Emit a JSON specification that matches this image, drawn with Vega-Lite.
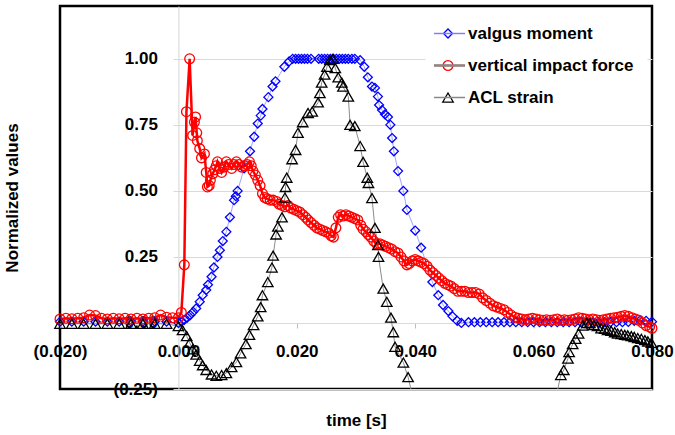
{
  "$schema": "https://vega.github.io/schema/vega-lite/v6.json",
  "width": 592,
  "height": 383,
  "autosize": {"type": "none"},
  "padding": {"left": 60, "top": 6, "right": 23, "bottom": 46},
  "background": "white",
  "config": {
    "font": "Liberation Sans",
    "view": {"stroke": "#000000", "strokeWidth": 2.5},
    "axis": {"labelFont": "Liberation Sans", "labelFontWeight": "bold", "labelFontSize": 17, "labelColor": "#000000", "titleFont": "Liberation Sans", "titleFontWeight": "bold", "titleFontSize": 17, "titleColor": "#000000", "grid": false},
    "legend": {"labelFont": "Liberation Sans", "labelFontWeight": "bold", "labelFontSize": 17, "labelColor": "#000000", "labelLimit": 300}
  },
  "data": {"values": [
    {"series": "valgus moment", "t": -0.020, "v": 0.005},
    {"series": "valgus moment", "t": -0.018, "v": 0.005},
    {"series": "valgus moment", "t": -0.016, "v": 0.005},
    {"series": "valgus moment", "t": -0.014, "v": 0.005},
    {"series": "valgus moment", "t": -0.012, "v": 0.005},
    {"series": "valgus moment", "t": -0.010, "v": 0.005},
    {"series": "valgus moment", "t": -0.008, "v": 0.005},
    {"series": "valgus moment", "t": -0.006, "v": 0.005},
    {"series": "valgus moment", "t": -0.004, "v": 0.005},
    {"series": "valgus moment", "t": -0.002, "v": 0.005},
    {"series": "valgus moment", "t": 0.0, "v": 0.0},
    {"series": "valgus moment", "t": 0.0005, "v": 0.005},
    {"series": "valgus moment", "t": 0.001, "v": 0.012},
    {"series": "valgus moment", "t": 0.0015, "v": 0.02},
    {"series": "valgus moment", "t": 0.002, "v": 0.03},
    {"series": "valgus moment", "t": 0.0025, "v": 0.042},
    {"series": "valgus moment", "t": 0.003, "v": 0.055},
    {"series": "valgus moment", "t": 0.0036, "v": 0.08},
    {"series": "valgus moment", "t": 0.0041, "v": 0.105},
    {"series": "valgus moment", "t": 0.0047, "v": 0.125},
    {"series": "valgus moment", "t": 0.005, "v": 0.145},
    {"series": "valgus moment", "t": 0.0056, "v": 0.175},
    {"series": "valgus moment", "t": 0.006, "v": 0.21},
    {"series": "valgus moment", "t": 0.0066, "v": 0.25},
    {"series": "valgus moment", "t": 0.007, "v": 0.275},
    {"series": "valgus moment", "t": 0.0075, "v": 0.31},
    {"series": "valgus moment", "t": 0.0081, "v": 0.345},
    {"series": "valgus moment", "t": 0.0087, "v": 0.4},
    {"series": "valgus moment", "t": 0.0094, "v": 0.465},
    {"series": "valgus moment", "t": 0.0097, "v": 0.48},
    {"series": "valgus moment", "t": 0.01, "v": 0.5},
    {"series": "valgus moment", "t": 0.0111, "v": 0.585},
    {"series": "valgus moment", "t": 0.0121, "v": 0.65},
    {"series": "valgus moment", "t": 0.0128, "v": 0.705},
    {"series": "valgus moment", "t": 0.0134, "v": 0.755},
    {"series": "valgus moment", "t": 0.0139, "v": 0.785},
    {"series": "valgus moment", "t": 0.0142, "v": 0.81},
    {"series": "valgus moment", "t": 0.0152, "v": 0.855},
    {"series": "valgus moment", "t": 0.0159, "v": 0.895},
    {"series": "valgus moment", "t": 0.0164, "v": 0.915},
    {"series": "valgus moment", "t": 0.0179, "v": 0.97},
    {"series": "valgus moment", "t": 0.0187, "v": 0.99},
    {"series": "valgus moment", "t": 0.0193, "v": 1.0},
    {"series": "valgus moment", "t": 0.0198, "v": 1.0},
    {"series": "valgus moment", "t": 0.0203, "v": 1.0},
    {"series": "valgus moment", "t": 0.0208, "v": 1.0},
    {"series": "valgus moment", "t": 0.0213, "v": 1.0},
    {"series": "valgus moment", "t": 0.0218, "v": 1.0},
    {"series": "valgus moment", "t": 0.0224, "v": 1.0},
    {"series": "valgus moment", "t": 0.0237, "v": 1.0},
    {"series": "valgus moment", "t": 0.0242, "v": 1.0},
    {"series": "valgus moment", "t": 0.0247, "v": 1.0},
    {"series": "valgus moment", "t": 0.0252, "v": 1.0},
    {"series": "valgus moment", "t": 0.0257, "v": 1.0},
    {"series": "valgus moment", "t": 0.0262, "v": 1.0},
    {"series": "valgus moment", "t": 0.0267, "v": 1.0},
    {"series": "valgus moment", "t": 0.0272, "v": 1.0},
    {"series": "valgus moment", "t": 0.0277, "v": 1.0},
    {"series": "valgus moment", "t": 0.0282, "v": 1.0},
    {"series": "valgus moment", "t": 0.0287, "v": 1.0},
    {"series": "valgus moment", "t": 0.0293, "v": 1.0},
    {"series": "valgus moment", "t": 0.0298, "v": 1.0},
    {"series": "valgus moment", "t": 0.0307, "v": 0.995},
    {"series": "valgus moment", "t": 0.0314, "v": 0.97},
    {"series": "valgus moment", "t": 0.032, "v": 0.93},
    {"series": "valgus moment", "t": 0.0327, "v": 0.895},
    {"series": "valgus moment", "t": 0.0332, "v": 0.89},
    {"series": "valgus moment", "t": 0.0337, "v": 0.857},
    {"series": "valgus moment", "t": 0.0339, "v": 0.825},
    {"series": "valgus moment", "t": 0.0344, "v": 0.806},
    {"series": "valgus moment", "t": 0.0349, "v": 0.79},
    {"series": "valgus moment", "t": 0.0354, "v": 0.78},
    {"series": "valgus moment", "t": 0.0358, "v": 0.75},
    {"series": "valgus moment", "t": 0.0361, "v": 0.7},
    {"series": "valgus moment", "t": 0.0364, "v": 0.65},
    {"series": "valgus moment", "t": 0.0371, "v": 0.575},
    {"series": "valgus moment", "t": 0.038, "v": 0.5},
    {"series": "valgus moment", "t": 0.0386, "v": 0.428},
    {"series": "valgus moment", "t": 0.04, "v": 0.35},
    {"series": "valgus moment", "t": 0.041, "v": 0.285},
    {"series": "valgus moment", "t": 0.0429, "v": 0.155},
    {"series": "valgus moment", "t": 0.0439, "v": 0.105},
    {"series": "valgus moment", "t": 0.0447, "v": 0.068},
    {"series": "valgus moment", "t": 0.0456, "v": 0.045},
    {"series": "valgus moment", "t": 0.0463, "v": 0.025},
    {"series": "valgus moment", "t": 0.0471, "v": 0.008},
    {"series": "valgus moment", "t": 0.0478, "v": 0.0},
    {"series": "valgus moment", "t": 0.049, "v": 0.003},
    {"series": "valgus moment", "t": 0.050, "v": 0.003},
    {"series": "valgus moment", "t": 0.051, "v": 0.003},
    {"series": "valgus moment", "t": 0.052, "v": 0.003},
    {"series": "valgus moment", "t": 0.053, "v": 0.003},
    {"series": "valgus moment", "t": 0.054, "v": 0.003},
    {"series": "valgus moment", "t": 0.055, "v": 0.003},
    {"series": "valgus moment", "t": 0.056, "v": 0.003},
    {"series": "valgus moment", "t": 0.057, "v": 0.003},
    {"series": "valgus moment", "t": 0.058, "v": 0.003},
    {"series": "valgus moment", "t": 0.059, "v": 0.003},
    {"series": "valgus moment", "t": 0.060, "v": 0.003},
    {"series": "valgus moment", "t": 0.061, "v": 0.003},
    {"series": "valgus moment", "t": 0.062, "v": 0.003},
    {"series": "valgus moment", "t": 0.063, "v": 0.003},
    {"series": "valgus moment", "t": 0.064, "v": 0.003},
    {"series": "valgus moment", "t": 0.065, "v": 0.003},
    {"series": "valgus moment", "t": 0.066, "v": 0.003},
    {"series": "valgus moment", "t": 0.067, "v": 0.003},
    {"series": "valgus moment", "t": 0.068, "v": 0.003},
    {"series": "valgus moment", "t": 0.069, "v": 0.003},
    {"series": "valgus moment", "t": 0.070, "v": 0.003},
    {"series": "valgus moment", "t": 0.071, "v": 0.003},
    {"series": "valgus moment", "t": 0.072, "v": 0.003},
    {"series": "valgus moment", "t": 0.073, "v": 0.003},
    {"series": "valgus moment", "t": 0.074, "v": 0.003},
    {"series": "valgus moment", "t": 0.075, "v": 0.003},
    {"series": "valgus moment", "t": 0.076, "v": 0.004},
    {"series": "valgus moment", "t": 0.077, "v": 0.008},
    {"series": "valgus moment", "t": 0.078, "v": 0.01},
    {"series": "valgus moment", "t": 0.079, "v": 0.008},
    {"series": "valgus moment", "t": 0.080, "v": 0.005},

    {"series": "vertical impact force", "t": -0.020, "v": 0.015},
    {"series": "vertical impact force", "t": -0.019, "v": 0.018},
    {"series": "vertical impact force", "t": -0.018, "v": 0.016},
    {"series": "vertical impact force", "t": -0.017, "v": 0.018},
    {"series": "vertical impact force", "t": -0.016, "v": 0.02},
    {"series": "vertical impact force", "t": -0.015, "v": 0.03},
    {"series": "vertical impact force", "t": -0.014, "v": 0.028},
    {"series": "vertical impact force", "t": -0.013, "v": 0.018},
    {"series": "vertical impact force", "t": -0.012, "v": 0.015},
    {"series": "vertical impact force", "t": -0.011, "v": 0.018},
    {"series": "vertical impact force", "t": -0.010, "v": 0.016},
    {"series": "vertical impact force", "t": -0.009, "v": 0.018},
    {"series": "vertical impact force", "t": -0.008, "v": 0.015},
    {"series": "vertical impact force", "t": -0.007, "v": 0.018},
    {"series": "vertical impact force", "t": -0.006, "v": 0.015},
    {"series": "vertical impact force", "t": -0.005, "v": 0.018},
    {"series": "vertical impact force", "t": -0.004, "v": 0.02},
    {"series": "vertical impact force", "t": -0.003, "v": 0.03},
    {"series": "vertical impact force", "t": -0.002, "v": 0.022},
    {"series": "vertical impact force", "t": -0.001, "v": 0.02},
    {"series": "vertical impact force", "t": 0.0, "v": 0.02},
    {"series": "vertical impact force", "t": 0.0005, "v": 0.04},
    {"series": "vertical impact force", "t": 0.001, "v": 0.22},
    {"series": "vertical impact force", "t": 0.00136, "v": 0.8},
    {"series": "vertical impact force", "t": 0.0019, "v": 1.0},
    {"series": "vertical impact force", "t": 0.0024, "v": 0.71},
    {"series": "vertical impact force", "t": 0.0027, "v": 0.76},
    {"series": "vertical impact force", "t": 0.0029, "v": 0.78},
    {"series": "vertical impact force", "t": 0.0031, "v": 0.72},
    {"series": "vertical impact force", "t": 0.0032, "v": 0.69},
    {"series": "vertical impact force", "t": 0.0036, "v": 0.66},
    {"series": "vertical impact force", "t": 0.0039, "v": 0.625},
    {"series": "vertical impact force", "t": 0.0044, "v": 0.64},
    {"series": "vertical impact force", "t": 0.0047, "v": 0.57},
    {"series": "vertical impact force", "t": 0.0049, "v": 0.515},
    {"series": "vertical impact force", "t": 0.0052, "v": 0.52},
    {"series": "vertical impact force", "t": 0.0054, "v": 0.54},
    {"series": "vertical impact force", "t": 0.0058, "v": 0.565},
    {"series": "vertical impact force", "t": 0.0061, "v": 0.58},
    {"series": "vertical impact force", "t": 0.0064, "v": 0.595},
    {"series": "vertical impact force", "t": 0.0066, "v": 0.61},
    {"series": "vertical impact force", "t": 0.007, "v": 0.585},
    {"series": "vertical impact force", "t": 0.0073, "v": 0.57},
    {"series": "vertical impact force", "t": 0.0077, "v": 0.59},
    {"series": "vertical impact force", "t": 0.0081, "v": 0.61},
    {"series": "vertical impact force", "t": 0.0085, "v": 0.6},
    {"series": "vertical impact force", "t": 0.009, "v": 0.585},
    {"series": "vertical impact force", "t": 0.0094, "v": 0.6},
    {"series": "vertical impact force", "t": 0.0098, "v": 0.61},
    {"series": "vertical impact force", "t": 0.0102, "v": 0.6},
    {"series": "vertical impact force", "t": 0.0107, "v": 0.59},
    {"series": "vertical impact force", "t": 0.0112, "v": 0.595},
    {"series": "vertical impact force", "t": 0.0116, "v": 0.6},
    {"series": "vertical impact force", "t": 0.012, "v": 0.61},
    {"series": "vertical impact force", "t": 0.0123, "v": 0.595},
    {"series": "vertical impact force", "t": 0.0126, "v": 0.575},
    {"series": "vertical impact force", "t": 0.013, "v": 0.56},
    {"series": "vertical impact force", "t": 0.0134, "v": 0.54},
    {"series": "vertical impact force", "t": 0.0138, "v": 0.52},
    {"series": "vertical impact force", "t": 0.0142, "v": 0.49},
    {"series": "vertical impact force", "t": 0.0146, "v": 0.475},
    {"series": "vertical impact force", "t": 0.015, "v": 0.47},
    {"series": "vertical impact force", "t": 0.0155, "v": 0.465},
    {"series": "vertical impact force", "t": 0.016, "v": 0.465},
    {"series": "vertical impact force", "t": 0.0166, "v": 0.46},
    {"series": "vertical impact force", "t": 0.017, "v": 0.45},
    {"series": "vertical impact force", "t": 0.0175, "v": 0.445},
    {"series": "vertical impact force", "t": 0.018, "v": 0.44},
    {"series": "vertical impact force", "t": 0.0185, "v": 0.445},
    {"series": "vertical impact force", "t": 0.019, "v": 0.435},
    {"series": "vertical impact force", "t": 0.0195, "v": 0.43},
    {"series": "vertical impact force", "t": 0.02, "v": 0.425},
    {"series": "vertical impact force", "t": 0.0205, "v": 0.42},
    {"series": "vertical impact force", "t": 0.021, "v": 0.41},
    {"series": "vertical impact force", "t": 0.0215, "v": 0.4},
    {"series": "vertical impact force", "t": 0.0219, "v": 0.39},
    {"series": "vertical impact force", "t": 0.0224, "v": 0.38},
    {"series": "vertical impact force", "t": 0.0229, "v": 0.37},
    {"series": "vertical impact force", "t": 0.0234, "v": 0.36},
    {"series": "vertical impact force", "t": 0.0239, "v": 0.355},
    {"series": "vertical impact force", "t": 0.0244, "v": 0.35},
    {"series": "vertical impact force", "t": 0.0249, "v": 0.345},
    {"series": "vertical impact force", "t": 0.0254, "v": 0.34},
    {"series": "vertical impact force", "t": 0.0258, "v": 0.33},
    {"series": "vertical impact force", "t": 0.0262, "v": 0.325},
    {"series": "vertical impact force", "t": 0.0266, "v": 0.36},
    {"series": "vertical impact force", "t": 0.027, "v": 0.4},
    {"series": "vertical impact force", "t": 0.0274, "v": 0.41},
    {"series": "vertical impact force", "t": 0.0278, "v": 0.405},
    {"series": "vertical impact force", "t": 0.0283, "v": 0.41},
    {"series": "vertical impact force", "t": 0.0288, "v": 0.405},
    {"series": "vertical impact force", "t": 0.0293, "v": 0.4},
    {"series": "vertical impact force", "t": 0.0298, "v": 0.395},
    {"series": "vertical impact force", "t": 0.0303, "v": 0.39},
    {"series": "vertical impact force", "t": 0.0308, "v": 0.37},
    {"series": "vertical impact force", "t": 0.0312, "v": 0.355},
    {"series": "vertical impact force", "t": 0.0317, "v": 0.345},
    {"series": "vertical impact force", "t": 0.0321, "v": 0.335},
    {"series": "vertical impact force", "t": 0.0325, "v": 0.325},
    {"series": "vertical impact force", "t": 0.033, "v": 0.31},
    {"series": "vertical impact force", "t": 0.0335, "v": 0.3},
    {"series": "vertical impact force", "t": 0.034, "v": 0.3},
    {"series": "vertical impact force", "t": 0.0345, "v": 0.295},
    {"series": "vertical impact force", "t": 0.035, "v": 0.29},
    {"series": "vertical impact force", "t": 0.0355, "v": 0.285},
    {"series": "vertical impact force", "t": 0.036, "v": 0.28},
    {"series": "vertical impact force", "t": 0.0366, "v": 0.27},
    {"series": "vertical impact force", "t": 0.0371, "v": 0.265},
    {"series": "vertical impact force", "t": 0.0376, "v": 0.25},
    {"series": "vertical impact force", "t": 0.0381, "v": 0.235},
    {"series": "vertical impact force", "t": 0.0386, "v": 0.22},
    {"series": "vertical impact force", "t": 0.039, "v": 0.225},
    {"series": "vertical impact force", "t": 0.0395, "v": 0.235},
    {"series": "vertical impact force", "t": 0.04, "v": 0.24},
    {"series": "vertical impact force", "t": 0.0405, "v": 0.235},
    {"series": "vertical impact force", "t": 0.041, "v": 0.23},
    {"series": "vertical impact force", "t": 0.0415, "v": 0.225},
    {"series": "vertical impact force", "t": 0.042, "v": 0.215},
    {"series": "vertical impact force", "t": 0.0425, "v": 0.2},
    {"series": "vertical impact force", "t": 0.043, "v": 0.19},
    {"series": "vertical impact force", "t": 0.0435, "v": 0.18},
    {"series": "vertical impact force", "t": 0.044, "v": 0.17},
    {"series": "vertical impact force", "t": 0.0445, "v": 0.16},
    {"series": "vertical impact force", "t": 0.045, "v": 0.15},
    {"series": "vertical impact force", "t": 0.0455, "v": 0.145},
    {"series": "vertical impact force", "t": 0.046, "v": 0.14},
    {"series": "vertical impact force", "t": 0.0466, "v": 0.13},
    {"series": "vertical impact force", "t": 0.0472, "v": 0.12},
    {"series": "vertical impact force", "t": 0.0478, "v": 0.12},
    {"series": "vertical impact force", "t": 0.0484, "v": 0.12},
    {"series": "vertical impact force", "t": 0.049, "v": 0.115},
    {"series": "vertical impact force", "t": 0.0496, "v": 0.115},
    {"series": "vertical impact force", "t": 0.0502, "v": 0.115},
    {"series": "vertical impact force", "t": 0.0508, "v": 0.11},
    {"series": "vertical impact force", "t": 0.0514, "v": 0.095},
    {"series": "vertical impact force", "t": 0.052, "v": 0.085},
    {"series": "vertical impact force", "t": 0.0526, "v": 0.075},
    {"series": "vertical impact force", "t": 0.0532, "v": 0.065},
    {"series": "vertical impact force", "t": 0.0538, "v": 0.06},
    {"series": "vertical impact force", "t": 0.0544, "v": 0.055},
    {"series": "vertical impact force", "t": 0.055, "v": 0.05},
    {"series": "vertical impact force", "t": 0.0556, "v": 0.04},
    {"series": "vertical impact force", "t": 0.0562, "v": 0.03},
    {"series": "vertical impact force", "t": 0.0568, "v": 0.022},
    {"series": "vertical impact force", "t": 0.0574, "v": 0.018},
    {"series": "vertical impact force", "t": 0.058, "v": 0.015},
    {"series": "vertical impact force", "t": 0.0586, "v": 0.012},
    {"series": "vertical impact force", "t": 0.0592, "v": 0.015},
    {"series": "vertical impact force", "t": 0.0598, "v": 0.018},
    {"series": "vertical impact force", "t": 0.0604, "v": 0.015},
    {"series": "vertical impact force", "t": 0.061, "v": 0.012},
    {"series": "vertical impact force", "t": 0.0616, "v": 0.01},
    {"series": "vertical impact force", "t": 0.0622, "v": 0.012},
    {"series": "vertical impact force", "t": 0.0628, "v": 0.01},
    {"series": "vertical impact force", "t": 0.0634, "v": 0.012},
    {"series": "vertical impact force", "t": 0.064, "v": 0.015},
    {"series": "vertical impact force", "t": 0.0646, "v": 0.01},
    {"series": "vertical impact force", "t": 0.0652, "v": 0.012},
    {"series": "vertical impact force", "t": 0.0658, "v": 0.01},
    {"series": "vertical impact force", "t": 0.0664, "v": 0.012},
    {"series": "vertical impact force", "t": 0.067, "v": 0.015},
    {"series": "vertical impact force", "t": 0.0676, "v": 0.02},
    {"series": "vertical impact force", "t": 0.0682, "v": 0.018},
    {"series": "vertical impact force", "t": 0.0688, "v": 0.015},
    {"series": "vertical impact force", "t": 0.0694, "v": 0.012},
    {"series": "vertical impact force", "t": 0.07, "v": 0.015},
    {"series": "vertical impact force", "t": 0.0706, "v": 0.012},
    {"series": "vertical impact force", "t": 0.0712, "v": 0.01},
    {"series": "vertical impact force", "t": 0.0718, "v": 0.012},
    {"series": "vertical impact force", "t": 0.0724, "v": 0.015},
    {"series": "vertical impact force", "t": 0.073, "v": 0.018},
    {"series": "vertical impact force", "t": 0.0736, "v": 0.02},
    {"series": "vertical impact force", "t": 0.0742, "v": 0.022},
    {"series": "vertical impact force", "t": 0.0748, "v": 0.025},
    {"series": "vertical impact force", "t": 0.0754, "v": 0.028},
    {"series": "vertical impact force", "t": 0.076, "v": 0.025},
    {"series": "vertical impact force", "t": 0.0766, "v": 0.02},
    {"series": "vertical impact force", "t": 0.0772, "v": 0.015},
    {"series": "vertical impact force", "t": 0.0778, "v": 0.01},
    {"series": "vertical impact force", "t": 0.0784, "v": 0.0},
    {"series": "vertical impact force", "t": 0.079, "v": -0.01},
    {"series": "vertical impact force", "t": 0.0796, "v": -0.015},
    {"series": "vertical impact force", "t": 0.08, "v": -0.02},

    {"series": "ACL strain", "t": -0.020, "v": -0.003},
    {"series": "ACL strain", "t": -0.018, "v": -0.003},
    {"series": "ACL strain", "t": -0.016, "v": -0.003},
    {"series": "ACL strain", "t": -0.014, "v": -0.003},
    {"series": "ACL strain", "t": -0.012, "v": -0.003},
    {"series": "ACL strain", "t": -0.010, "v": -0.003},
    {"series": "ACL strain", "t": -0.008, "v": -0.003},
    {"series": "ACL strain", "t": -0.006, "v": -0.003},
    {"series": "ACL strain", "t": -0.004, "v": -0.003},
    {"series": "ACL strain", "t": -0.002, "v": -0.003},
    {"series": "ACL strain", "t": 0.0, "v": -0.012},
    {"series": "ACL strain", "t": 0.0007, "v": -0.027},
    {"series": "ACL strain", "t": 0.0014, "v": -0.05},
    {"series": "ACL strain", "t": 0.0019, "v": -0.075},
    {"series": "ACL strain", "t": 0.0024, "v": -0.1},
    {"series": "ACL strain", "t": 0.003, "v": -0.12},
    {"series": "ACL strain", "t": 0.0036, "v": -0.143},
    {"series": "ACL strain", "t": 0.0041, "v": -0.16},
    {"series": "ACL strain", "t": 0.0047, "v": -0.178},
    {"series": "ACL strain", "t": 0.0056, "v": -0.195},
    {"series": "ACL strain", "t": 0.0064, "v": -0.2},
    {"series": "ACL strain", "t": 0.0073, "v": -0.197},
    {"series": "ACL strain", "t": 0.0081, "v": -0.19},
    {"series": "ACL strain", "t": 0.009, "v": -0.167},
    {"series": "ACL strain", "t": 0.0098, "v": -0.148},
    {"series": "ACL strain", "t": 0.0105, "v": -0.115},
    {"series": "ACL strain", "t": 0.0114, "v": -0.08},
    {"series": "ACL strain", "t": 0.012, "v": -0.045},
    {"series": "ACL strain", "t": 0.0127, "v": -0.008},
    {"series": "ACL strain", "t": 0.0134, "v": 0.025},
    {"series": "ACL strain", "t": 0.0139, "v": 0.06},
    {"series": "ACL strain", "t": 0.0142, "v": 0.105},
    {"series": "ACL strain", "t": 0.0151, "v": 0.155},
    {"series": "ACL strain", "t": 0.0158, "v": 0.21},
    {"series": "ACL strain", "t": 0.016, "v": 0.255},
    {"series": "ACL strain", "t": 0.0165, "v": 0.335},
    {"series": "ACL strain", "t": 0.0168, "v": 0.365},
    {"series": "ACL strain", "t": 0.0175, "v": 0.4},
    {"series": "ACL strain", "t": 0.018, "v": 0.475},
    {"series": "ACL strain", "t": 0.0181, "v": 0.515},
    {"series": "ACL strain", "t": 0.0183, "v": 0.55},
    {"series": "ACL strain", "t": 0.0192, "v": 0.62},
    {"series": "ACL strain", "t": 0.0198, "v": 0.655},
    {"series": "ACL strain", "t": 0.0202, "v": 0.72},
    {"series": "ACL strain", "t": 0.021, "v": 0.76},
    {"series": "ACL strain", "t": 0.0219, "v": 0.795},
    {"series": "ACL strain", "t": 0.0226, "v": 0.8},
    {"series": "ACL strain", "t": 0.0236, "v": 0.835},
    {"series": "ACL strain", "t": 0.0239, "v": 0.87},
    {"series": "ACL strain", "t": 0.0242, "v": 0.91},
    {"series": "ACL strain", "t": 0.0247, "v": 0.94},
    {"series": "ACL strain", "t": 0.0251, "v": 0.97},
    {"series": "ACL strain", "t": 0.0256, "v": 0.995},
    {"series": "ACL strain", "t": 0.0261, "v": 1.0},
    {"series": "ACL strain", "t": 0.0265, "v": 0.965},
    {"series": "ACL strain", "t": 0.027, "v": 0.93},
    {"series": "ACL strain", "t": 0.0276, "v": 0.91},
    {"series": "ACL strain", "t": 0.0278, "v": 0.895},
    {"series": "ACL strain", "t": 0.0287, "v": 0.857},
    {"series": "ACL strain", "t": 0.029, "v": 0.75},
    {"series": "ACL strain", "t": 0.0298, "v": 0.745},
    {"series": "ACL strain", "t": 0.0307, "v": 0.67},
    {"series": "ACL strain", "t": 0.0312, "v": 0.61},
    {"series": "ACL strain", "t": 0.0319, "v": 0.55},
    {"series": "ACL strain", "t": 0.0321, "v": 0.53},
    {"series": "ACL strain", "t": 0.0327, "v": 0.473},
    {"series": "ACL strain", "t": 0.0332, "v": 0.36},
    {"series": "ACL strain", "t": 0.0337, "v": 0.295},
    {"series": "ACL strain", "t": 0.0338, "v": 0.25},
    {"series": "ACL strain", "t": 0.0346, "v": 0.13},
    {"series": "ACL strain", "t": 0.0352, "v": 0.08},
    {"series": "ACL strain", "t": 0.0359, "v": 0.02},
    {"series": "ACL strain", "t": 0.0363, "v": -0.035},
    {"series": "ACL strain", "t": 0.0366, "v": -0.09},
    {"series": "ACL strain", "t": 0.038, "v": -0.15},
    {"series": "ACL strain", "t": 0.0388, "v": -0.205},
    {"series": "ACL strain", "t": 0.0398, "v": -0.3},
    {"series": "ACL strain", "t": 0.0636, "v": -0.3},
    {"series": "ACL strain", "t": 0.0646, "v": -0.197},
    {"series": "ACL strain", "t": 0.0651, "v": -0.178},
    {"series": "ACL strain", "t": 0.0658, "v": -0.135},
    {"series": "ACL strain", "t": 0.066, "v": -0.11},
    {"series": "ACL strain", "t": 0.0666, "v": -0.08},
    {"series": "ACL strain", "t": 0.0671, "v": -0.06},
    {"series": "ACL strain", "t": 0.0676, "v": -0.04},
    {"series": "ACL strain", "t": 0.0683, "v": -0.01},
    {"series": "ACL strain", "t": 0.069, "v": 0.0},
    {"series": "ACL strain", "t": 0.0695, "v": 0.0},
    {"series": "ACL strain", "t": 0.0702, "v": -0.008},
    {"series": "ACL strain", "t": 0.0708, "v": -0.012},
    {"series": "ACL strain", "t": 0.0714, "v": -0.02},
    {"series": "ACL strain", "t": 0.072, "v": -0.022},
    {"series": "ACL strain", "t": 0.0725, "v": -0.027},
    {"series": "ACL strain", "t": 0.0731, "v": -0.03},
    {"series": "ACL strain", "t": 0.0737, "v": -0.035},
    {"series": "ACL strain", "t": 0.0742, "v": -0.04},
    {"series": "ACL strain", "t": 0.0748, "v": -0.042},
    {"series": "ACL strain", "t": 0.0754, "v": -0.045},
    {"series": "ACL strain", "t": 0.0759, "v": -0.047},
    {"series": "ACL strain", "t": 0.0765, "v": -0.05},
    {"series": "ACL strain", "t": 0.077, "v": -0.053},
    {"series": "ACL strain", "t": 0.0776, "v": -0.057},
    {"series": "ACL strain", "t": 0.0782, "v": -0.06},
    {"series": "ACL strain", "t": 0.0788, "v": -0.065},
    {"series": "ACL strain", "t": 0.0793, "v": -0.07},
    {"series": "ACL strain", "t": 0.0799, "v": -0.075}
  ]},
  "layer": [
    {
      "mark": {"type": "line", "clip": true},
      "encoding": {
        "x": {"field": "t", "type": "quantitative",
          "scale": {"domain": [-0.02, 0.08], "nice": false, "zero": false},
          "axis": {"values": [-0.02, 0, 0.02, 0.04, 0.06, 0.08], "offset": -66,
            "labelExpr": "datum.value < 0 ? '(' + format(-datum.value, '.3f') + ')' : format(datum.value, '.3f')",
            "labelFontSize": 17, "labelFontWeight": "bold",
            "title": "time [s]", "titleFontSize": 17, "titleFontWeight": "bold", "titleY": 89, "titleBaseline": "top",
            "domainColor": "#d4d4d4", "domainWidth": 1, "tickColor": "#bdbdbd", "tickSize": 5,
            "labelPadding": 15, "labelOverlap": false, "labelFlush": false, "grid": false}},
        "y": {"field": "v", "type": "quantitative",
          "scale": {"domain": [-0.25, 1.2], "nice": false, "zero": false},
          "axis": {"values": [-0.25, 0, 0.25, 0.5, 0.75, 1], "offset": -118.4,
            "labelExpr": "datum.value < 0 ? '(' + format(-datum.value, '.2f') + ')' : format(datum.value, '.2f')",
            "labelFontSize": 17, "labelFontWeight": "bold",
            "title": "Normalized values", "titleFontSize": 17, "titleFontWeight": "bold",
            "titleX": -166, "titleAngle": -90, "titleBaseline": "middle",
            "domainColor": "#d4d4d4", "domainWidth": 1, "ticks": false,
            "labelPadding": 21, "labelOverlap": false, "labelFlush": false, "grid": false}},
        "color": {"field": "series", "type": "nominal",
          "sort": ["valgus moment", "vertical impact force", "ACL strain"],
          "scale": {"range": ["#8c8cff", "#ff0000", "#8c8c8c"]},
          "legend": {"title": null, "orient": "none", "legendX": 367, "legendY": 5, "padding": 14, "zindex": 2,
            "symbolType": "M-3,0H3", "symbolSize": 107, "labelExpr": "' '",
            "labelFontSize": 17, "labelFontWeight": "bold", "labelLimit": 300,
            "rowPadding": 14, "labelOffset": 4}},
        "strokeWidth": {"field": "series", "type": "nominal",
          "sort": ["valgus moment", "vertical impact force", "ACL strain"],
          "scale": {"type": "ordinal", "range": [0.8, 2.5, 1]},
          "legend": {"title": null, "orient": "none", "legendX": 367, "legendY": 5, "padding": 14, "zindex": 2,
            "symbolType": "M-3,0H3", "symbolSize": 107, "labelExpr": "' '",
            "labelFontSize": 17, "labelFontWeight": "bold", "labelLimit": 300,
            "rowPadding": 14, "labelOffset": 4}}
      }
    },
    {
      "transform": [{"filter": "datum.v >= -0.25"}],
      "mark": {"type": "point", "filled": false, "strokeWidth": 1.3, "opacity": 1},
      "encoding": {
        "x": {"field": "t", "type": "quantitative"},
        "y": {"field": "v", "type": "quantitative",
          "axis": {"orient": "right", "values": [-0.25, 0, 0.25, 0.5, 0.75, 1], "labels": false,
            "domain": false, "ticks": true, "tickSize": -479, "tickColor": "#d9d9d9", "tickWidth": 1,
            "title": null, "grid": false}},
        "shape": {"field": "series", "type": "nominal",
          "scale": {"domain": ["valgus moment", "vertical impact force", "ACL strain"], "range": ["diamond", "circle", "triangle-up"]},
          "legend": {"title": null, "orient": "none", "legendX": 365.5, "legendY": 5, "padding": 14, "zindex": 1,
            "fillColor": "white",
            "labelFontSize": 17, "labelFontWeight": "bold", "labelLimit": 300,
            "rowPadding": 14, "labelOffset": 11.5, "symbolStrokeWidth": 1.3}},
        "stroke": {"field": "series", "type": "nominal",
          "scale": {"domain": ["valgus moment", "vertical impact force", "ACL strain"], "range": ["#0000ff", "#ff0000", "#000000"]},
          "legend": {"title": null, "orient": "none", "legendX": 365.5, "legendY": 5, "padding": 14, "zindex": 1,
            "fillColor": "white",
            "labelFontSize": 17, "labelFontWeight": "bold", "labelLimit": 300,
            "rowPadding": 14, "labelOffset": 11.5, "symbolStrokeWidth": 1.3}},
        "size": {"field": "series", "type": "nominal",
          "scale": {"type": "ordinal", "domain": ["valgus moment", "vertical impact force", "ACL strain"], "range": [80, 95, 110]},
          "legend": {"title": null, "orient": "none", "legendX": 365.5, "legendY": 5, "padding": 14, "zindex": 1,
            "fillColor": "white",
            "labelFontSize": 17, "labelFontWeight": "bold", "labelLimit": 300,
            "rowPadding": 14, "labelOffset": 11.5, "symbolStrokeWidth": 1.3}}
      }
    }
  ],
  "resolve": {"axis": {"y": "independent"}}
}
